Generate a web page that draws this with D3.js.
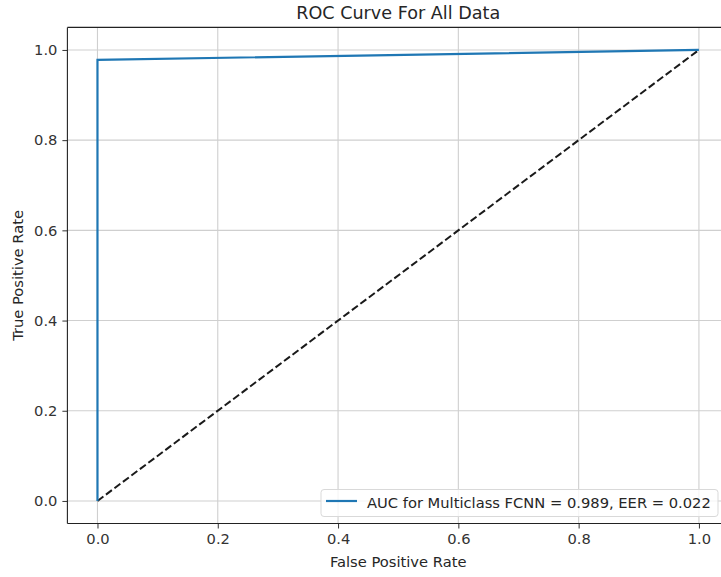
<!DOCTYPE html>
<html>
<head>
<meta charset="utf-8">
<script src="https://cdn.jsdelivr.net/npm/d3@7"></script>
<style>
  html, body { margin: 0; padding: 0; background: #fff; }
  svg text { font-family: "DejaVu Sans", sans-serif; fill: #262626; }
</style>
</head>
<body>
<svg id="chart" width="721" height="577"></svg>
<script>
// ROC curve points
const fpr = [0, 0, 1];
const tpr = [0, 0.978, 1];
// Chance diagonal
const chanceX = [0, 1];
const chanceY = [0, 1];
const tickValues = [0, 0.2, 0.4, 0.6, 0.8, 1.0];
const legendLabel = "AUC for Multiclass FCNN = 0.989, EER = 0.022";
const titleText = "ROC Curve For All Data";
const xLabelText = "False Positive Rate";
const yLabelText = "True Positive Rate";

const svg = d3.select("#chart");
const margin = { left: 67.4, top: 27.4, right: 729, bottom: 523.5 };
const fs = 14.7;

const x = d3.scaleLinear().domain([-0.05, 1.05]).range([margin.left, margin.right]);
const y = d3.scaleLinear().domain([-0.05, 1.05]).range([margin.bottom, margin.top]);

// grid
const grid = svg.append("g");
grid.selectAll("line.gx").data(tickValues).join("line")
  .attr("x1", d => x(d)).attr("x2", d => x(d))
  .attr("y1", margin.top).attr("y2", margin.bottom)
  .attr("stroke", "#cfcfcf").attr("stroke-width", 1.1);
grid.selectAll("line.gy").data(tickValues).join("line")
  .attr("y1", d => y(d)).attr("y2", d => y(d))
  .attr("x1", margin.left).attr("x2", margin.right)
  .attr("stroke", "#cfcfcf").attr("stroke-width", 1.1);

// axes
const fmt = d3.format(".1f");
const xAxis = svg.append("g")
  .attr("transform", `translate(0,${margin.bottom})`)
  .call(d3.axisBottom(x).tickValues(tickValues).tickFormat(fmt).tickSize(5).tickSizeOuter(0).tickPadding(5));
const yAxis = svg.append("g")
  .attr("transform", `translate(${margin.left},0)`)
  .call(d3.axisLeft(y).tickValues(tickValues).tickFormat(fmt).tickSize(5).tickSizeOuter(0).tickPadding(5));
[xAxis, yAxis].forEach(g => {
  g.select(".domain").remove();
  g.selectAll(".tick line").attr("stroke", "#333").attr("stroke-width", 1);
  g.selectAll(".tick text").attr("font-size", fs).style("fill", "#333");
});

// curves
const line = d3.line().x(d => x(d[0])).y(d => y(d[1]));
svg.append("path")
  .datum(chanceX.map((v, i) => [v, chanceY[i]]))
  .attr("d", line).attr("fill", "none")
  .attr("stroke", "#1a1a1a").attr("stroke-width", 2)
  .attr("stroke-dasharray", "7.4,3.2");
svg.append("path")
  .datum(fpr.map((v, i) => [v, tpr[i]]))
  .attr("d", line).attr("fill", "none")
  .attr("stroke", "#1f77b4").attr("stroke-width", 2.2)
  .attr("stroke-linejoin", "miter");

// spines
const sp = svg.append("g").attr("stroke", "#222").attr("stroke-width", 1.1);
sp.append("line").attr("x1", margin.left).attr("x2", margin.right).attr("y1", margin.top).attr("y2", margin.top);
sp.append("line").attr("x1", margin.left).attr("x2", margin.right).attr("y1", margin.bottom).attr("y2", margin.bottom);
sp.append("line").attr("x1", margin.left).attr("x2", margin.left).attr("y1", margin.top).attr("y2", margin.bottom);
sp.append("line").attr("x1", margin.right).attr("x2", margin.right).attr("y1", margin.top).attr("y2", margin.bottom);

// legend
const lg = svg.append("g");
lg.append("rect")
  .attr("x", 321).attr("y", 489.5).attr("width", 397).attr("height", 27)
  .attr("rx", 3).attr("fill", "#fff").attr("fill-opacity", 0.8)
  .attr("stroke", "#d9d9d9").attr("stroke-width", 1);
lg.append("line")
  .attr("x1", 326).attr("x2", 357).attr("y1", 501).attr("y2", 501)
  .attr("stroke", "#1f77b4").attr("stroke-width", 2.2);
lg.append("text")
  .attr("x", 367).attr("y", 507.5).attr("font-size", fs)
  .text(legendLabel);

// titles
svg.append("text").attr("x", (margin.left + margin.right) / 2).attr("y", 18.5)
  .attr("text-anchor", "middle").attr("font-size", 17.6).text(titleText);
svg.append("text").attr("x", (margin.left + margin.right) / 2).attr("y", 567)
  .attr("text-anchor", "middle").attr("font-size", fs).text(xLabelText);
svg.append("text").attr("transform", `translate(23,${(margin.top + margin.bottom) / 2}) rotate(-90)`)
  .attr("text-anchor", "middle").attr("font-size", fs).text(yLabelText);
</script>
</body>
</html>
